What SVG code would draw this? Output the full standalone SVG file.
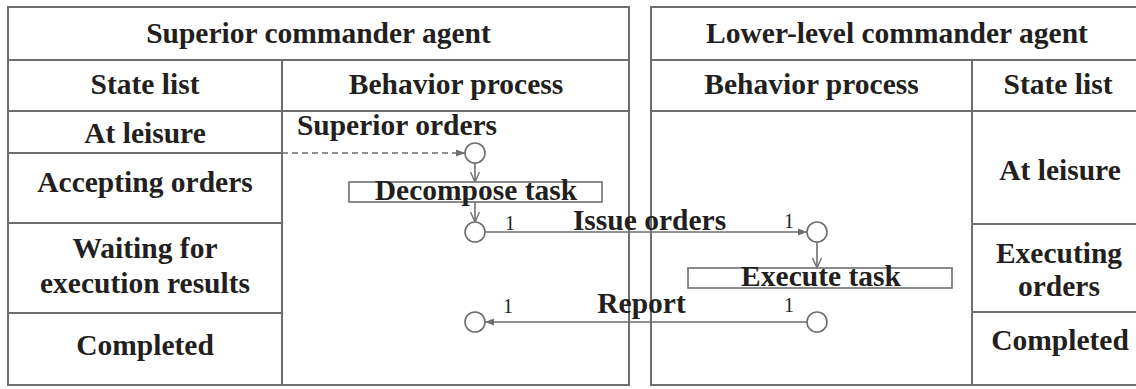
<svg xmlns="http://www.w3.org/2000/svg" width="1136" height="389" viewBox="0 0 1136 389">
<style>
.t{font-family:"Liberation Serif","Times New Roman",serif;font-weight:bold;font-size:29.5px;fill:#231f20;text-anchor:middle}
.n{font-family:"Liberation Serif","Times New Roman",serif;font-size:20px;fill:#231f20;text-anchor:middle}
.grid{fill:none;stroke:#6e6e6e;stroke-width:2}
.node{fill:#fff;stroke:#6e6e6e;stroke-width:1.6}
.conn{fill:none;stroke:#6e6e6e;stroke-width:1.6}
</style>
<defs>
<marker id="tri" viewBox="0 0 10 10" refX="10" refY="5" markerWidth="9" markerHeight="9" markerUnits="userSpaceOnUse" orient="auto">
<path d="M0,1 L10,5 L0,9 Z" fill="#6e6e6e"/>
</marker>
<marker id="vee" viewBox="0 0 12 10" refX="11" refY="5" markerWidth="12" markerHeight="10" markerUnits="userSpaceOnUse" orient="auto">
<path d="M1,0.5 L11,5 L1,9.5" fill="none" stroke="#6e6e6e" stroke-width="1.4"/>
</marker>
</defs>
<rect width="1136" height="389" fill="#fff"/>
<g id="superior-agent">
<rect class="grid" x="8" y="7" width="621" height="378"/>
<line class="grid" x1="8" y1="60" x2="629" y2="60"/>
<line class="grid" x1="8" y1="111" x2="629" y2="111"/>
<line class="grid" x1="282" y1="60" x2="282" y2="385"/>
<line class="grid" x1="8" y1="153" x2="282" y2="153"/>
<line class="grid" x1="8" y1="223" x2="282" y2="223"/>
<line class="grid" x1="8" y1="313" x2="282" y2="313"/>
<text class="t" x="318.5" y="43">Superior commander agent</text>
<text class="t" x="145" y="94">State list</text>
<text class="t" x="456" y="94">Behavior process</text>
<text class="t" x="145" y="143">At leisure</text>
<text class="t" x="145" y="192">Accepting orders</text>
<text class="t" x="145" y="258">Waiting for</text>
<text class="t" x="145" y="293">execution results</text>
<text class="t" x="145" y="355">Completed</text>
</g>
<g id="lower-agent">
<rect class="grid" x="651" y="7" width="492" height="378"/>
<line class="grid" x1="651" y1="60" x2="1143" y2="60"/>
<line class="grid" x1="651" y1="111" x2="1143" y2="111"/>
<line class="grid" x1="972" y1="60" x2="972" y2="385"/>
<line class="grid" x1="972" y1="224" x2="1143" y2="224"/>
<line class="grid" x1="972" y1="312" x2="1143" y2="312"/>
<text class="t" x="897" y="43">Lower-level commander agent</text>
<text class="t" x="811.5" y="94">Behavior process</text>
<text class="t" x="1058" y="94">State list</text>
<text class="t" x="1060" y="180">At leisure</text>
<text class="t" x="1059" y="263">Executing</text>
<text class="t" x="1059" y="296">orders</text>
<text class="t" x="1060" y="350">Completed</text>
</g>
<g id="connectors">
<line class="conn" x1="282" y1="153" x2="465" y2="153" stroke-dasharray="6,4" marker-end="url(#tri)"/>
<line class="conn" x1="475" y1="163" x2="475" y2="182" marker-end="url(#vee)"/>
<line class="conn" x1="475" y1="202" x2="475" y2="222" marker-end="url(#vee)"/>
<line class="conn" x1="485" y1="232" x2="807" y2="232" marker-end="url(#tri)"/>
<line class="conn" x1="817" y1="242" x2="817" y2="268" marker-end="url(#vee)"/>
<line class="conn" x1="807" y1="322" x2="485" y2="322" marker-end="url(#tri)"/>
<text class="n" x="510" y="230">1</text>
<text class="n" x="789" y="228">1</text>
<text class="n" x="508" y="313">1</text>
<text class="n" x="789" y="312">1</text>
</g>
<g id="superior-orders-start">
<circle class="node" cx="475" cy="153" r="10"/>
<text class="t" x="397" y="135">Superior orders</text>
</g>
<g id="decompose-task">
<rect class="node" x="349" y="182" width="253" height="20"/>
<text class="t" x="476" y="200">Decompose task</text>
</g>
<g id="issue-orders-node">
<circle class="node" cx="475" cy="232" r="10"/>
</g>
<g id="issue-orders-label">
<text class="t" x="649.5" y="230">Issue orders</text>
</g>
<g id="receive-orders-node">
<circle class="node" cx="817" cy="232" r="10"/>
</g>
<g id="execute-task">
<rect class="node" x="688" y="268" width="264" height="20"/>
<text class="t" x="821" y="286">Execute task</text>
</g>
<g id="report-source">
<circle class="node" cx="817" cy="322" r="10"/>
</g>
<g id="report-target">
<circle class="node" cx="475" cy="322" r="10"/>
<text class="t" x="641.5" y="313">Report</text>
</g>
</svg>
